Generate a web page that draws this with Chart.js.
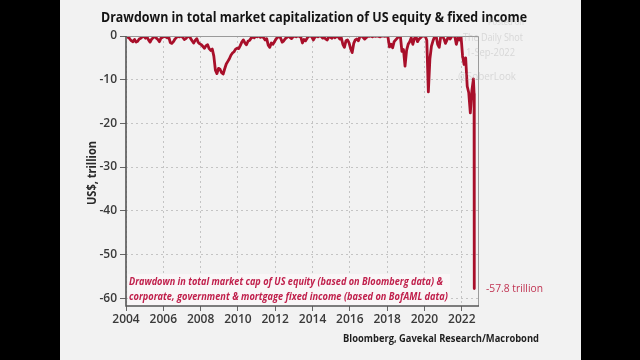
<!DOCTYPE html>
<html>
<head>
<meta charset="utf-8">
<script src="https://cdn.jsdelivr.net/npm/chart.js@4.4.1/dist/chart.umd.min.js"></script>
<style>
  html, body { margin: 0; padding: 0; background: #000; }
  #wrap { position: relative; width: 640px; height: 360px; background: #000; overflow: hidden; }
  #panel { position: absolute; left: 60px; top: 0; width: 521px; height: 360px; background: #f2f2f2; }
  #c { position: absolute; left: 0; top: 0; }
</style>
</head>
<body>
<div id="wrap">
  <div id="panel"></div>
  <canvas id="c" width="640" height="360"></canvas>
</div>
<script>
// ---- Data (US$ trillion drawdown, monthly from Jan 2004) ----
const startYear = 2004;
const drawdown2004 = [-0.3,-0.2,-0.7,-1.1,-1.3,-0.8,-1.4,-1.2,-0.7,-0.5,-0.2,-0.1];
const drawdown2005 = [-0.5,-0.2,-0.9,-1.4,-0.7,-0.4,-0.1,-0.5,-0.8,-1.3,-0.5,-0.3];
const drawdown2006 = [-0.1,-0.2,-0.4,-0.2,-1.5,-1.7,-1.3,-0.7,-0.3,-0.1,-0.2,0];
const drawdown2007 = [-0.3,-0.8,-0.6,-0.2,0,-0.5,-1.1,-1.6,-1.0,-0.6,-1.5,-1.8];
const drawdown2008 = [-2.0,-2.4,-2.8,-2.2,-2.0,-2.9,-3.3,-3.0,-4.6,-7.8,-8.6,-7.4];
const drawdown2009 = [-7.6,-8.4,-8.7,-7.5,-6.4,-5.8,-5.2,-4.4,-3.9,-3.6,-3.0,-2.8];
const drawdown2010 = [-2.9,-2.2,-1.4,-0.9,-1.6,-2.0,-1.2,-1.0,-0.5,-0.2,-0.4,0];
const drawdown2011 = [-0.2,0,-0.3,0,-0.4,-0.9,-0.6,-2.1,-2.6,-1.6,-1.9,-1.3];
const drawdown2012 = [-0.7,-0.3,0,-0.5,-1.4,-1.1,-0.6,-0.3,0,-0.3,-0.6,-0.2];
const drawdown2013 = [0,-0.2,0,-0.1,-0.3,-1.6,-0.8,-1.1,-0.5,-0.1,0,-0.2];
const drawdown2014 = [-0.9,-0.3,0,-0.2,0,-0.1,-0.5,-0.3,-0.7,-0.9,-0.1,-0.3];
const drawdown2015 = [-0.5,0,-0.4,-0.1,-0.2,-0.7,-0.4,-1.9,-2.6,-1.1,-0.9,-1.6];
const drawdown2016 = [-2.9,-3.8,-1.7,-0.9,-0.7,-1.1,-0.1,0,-0.3,-0.7,-0.4,0];
const drawdown2017 = [-0.1,0,-0.2,0,-0.1,0,-0.1,-0.2,0,0,-0.1,0];
const drawdown2018 = [-0.2,-2.5,-1.9,-2.7,-1.3,-0.9,-0.5,-0.1,0,-3.5,-3.1,-6.9];
const drawdown2019 = [-3.3,-1.9,-1.3,-0.4,-1.9,-0.6,0,-1.3,-0.7,-0.4,0,0];
const drawdown2020 = [0,-1.0,-12.8,-5.2,-2.3,-1.1,-0.2,0,-1.9,-2.6,0,0];
const drawdown2021 = [-0.6,-1.7,-0.9,0,-0.7,-0.1,0,0,-1.9,-0.5,-0.9,0];
const drawdown2022 = [-4.5,-6.5,-5.0,-11.5,-13.0,-17.6,-12.5,-9.8];
// final readings (1-Sep-2022)
const finalDates = [2022.66, 2022.67];
const finalValues = [-13.2, -57.8];

const xTicks = [2004,2006,2008,2010,2012,2014,2016,2018,2020,2022];
const yTicks = [0,-10,-20,-30,-40,-50,-60];
const xMin = 2004, xMax = 2022.87, yMin = -61.8, yMax = 0;

const titleText = "Drawdown in total market capitalization of US equity & fixed income";
const yTitle = "US$, trillion";
const noteLine1 = "Drawdown in total market cap of US equity (based on Bloomberg data) &";
const noteLine2 = "corporate, government & mortgage fixed income (based on BofAML data)";
const endLabel = "-57.8 trillion";
const sourceText = "Bloomberg, Gavekal Research/Macrobond";
const watermark = ["Posted on", "The Daily Shot", "1-Sep-2022", "@SoberLook"];

// ---- Build points ----
const allMonthly = [].concat(drawdown2004, drawdown2005, drawdown2006, drawdown2007, drawdown2008,
  drawdown2009, drawdown2010, drawdown2011, drawdown2012, drawdown2013, drawdown2014, drawdown2015,
  drawdown2016, drawdown2017, drawdown2018, drawdown2019, drawdown2020, drawdown2021, drawdown2022);
const points = allMonthly.map((v, i) => ({ x: startYear + i / 12 + 1 / 24, y: v }));
finalDates.forEach((d, i) => points.push({ x: d, y: finalValues[i] }));

function fitText(ctx, text, x, y, w, font, color) {
  ctx.save();
  ctx.font = font;
  ctx.fillStyle = color;
  ctx.textBaseline = 'middle';
  ctx.textAlign = 'left';
  const m = ctx.measureText(text).width;
  const s = w / m;
  ctx.translate(x, y);
  ctx.scale(s, 1);
  ctx.fillText(text, 0, 0);
  ctx.restore();
}

const decor = {
  id: 'decor',
  beforeDatasetsDraw(chart) {
    const { ctx, chartArea: a } = chart;
    ctx.save();
    ctx.fillStyle = 'rgba(250,246,247,0.9)';
    ctx.fillRect(a.left + 2, 274, 322, 31);
    ctx.restore();
  },
  afterDraw(chart) {
    const { ctx, chartArea: a } = chart;
    ctx.save();
    ctx.strokeStyle = '#9a9a9a';
    ctx.lineWidth = 1;
    ctx.beginPath();
    ctx.moveTo(a.left, a.top + 0.5); ctx.lineTo(a.right + 0.5, a.top + 0.5);
    ctx.lineTo(a.right + 0.5, a.bottom);
    ctx.stroke();
    ctx.strokeStyle = '#555';
    ctx.lineWidth = 1.6;
    ctx.beginPath();
    ctx.moveTo(a.left, a.top); ctx.lineTo(a.left, a.bottom); ctx.lineTo(a.right + 1, a.bottom);
    ctx.stroke();
    ctx.restore();

    fitText(ctx, titleText, 101, 18, 426, 'bold 15px "Open Sans"', '#141414');
    ctx.save();
    ctx.translate(93, 173);
    ctx.rotate(-Math.PI / 2);
    fitText(ctx, yTitle, -32, 0, 64, 'bold 12px "Open Sans"', '#2a2a2a');
    ctx.restore();
    fitText(ctx, noteLine1, 129, 282, 314, 'italic bold 11px "Open Sans"', '#c0204c');
    fitText(ctx, noteLine2, 129, 297, 319, 'italic bold 11px "Open Sans"', '#c0204c');
    fitText(ctx, endLabel, 486, 289, 57, '11px "Open Sans"', '#c03352');
    fitText(ctx, sourceText, 343, 339, 196, 'bold 11px "Open Sans"', '#1e1e1e');
    ctx.save();
    ctx.globalAlpha = 0.4;
    fitText(ctx, watermark[0], 488, 22, 36, '9px "Open Sans"', '#b0b0b0');
    fitText(ctx, watermark[1], 463, 38, 60, '11px "Open Sans"', '#b0b0b0');
    fitText(ctx, watermark[2], 466, 53, 49, '10px "Open Sans"', '#b0b0b0');
    fitText(ctx, watermark[3], 458, 77, 58, '11px "Open Sans"', '#b0b0b0');
    ctx.restore();
  }
};

new Chart(document.getElementById('c'), {
  type: 'line',
  data: {
    datasets: [{
      data: points,
      borderColor: '#a80f2a',
      borderWidth: 2.8,
      pointRadius: 0,
      tension: 0,
      borderJoinStyle: 'round',
      fill: false
    }]
  },
  options: {
    responsive: false,
    animation: false,
    parsing: false,
    layout: { padding: { left: 0, top: 36, right: 162, bottom: 0 } },
    plugins: { legend: { display: false }, tooltip: { enabled: false }, title: { display: false } },
    scales: {
      x: {
        type: 'linear',
        min: xMin, max: xMax,
        afterFit(scale) { scale.height = 54; },
        afterBuildTicks(scale) { scale.ticks = xTicks.map(v => ({ value: v })); },
        ticks: {
          padding: 1,
          maxRotation: 0,
          autoSkip: false,
          font: { family: '"Open Sans"', size: 12, weight: '600' },
          color: '#3a3a3a',
          callback: v => String(v)
        },
        grid: {
          color: '#c4c4c4',
          lineWidth: 1,
          tickLength: 5,
          tickColor: '#666',
          tickBorderDash: [],
          drawTicks: true
        },
        border: { display: false, dash: [2, 3] }
      },
      y: {
        type: 'linear',
        min: yMin, max: yMax,
        afterFit(scale) { scale.width = 126; },
        afterBuildTicks(scale) { scale.ticks = yTicks.map(v => ({ value: v })); },
        ticks: {
          padding: 3,
          font: { family: '"Open Sans"', size: 12, weight: '600' },
          color: '#3a3a3a',
          callback: v => String(v)
        },
        grid: {
          color: '#c4c4c4',
          lineWidth: 1,
          tickLength: 6,
          tickColor: '#666',
          tickBorderDash: []
        },
        border: { display: false, dash: [2, 3] }
      }
    }
  },
  plugins: [decor]
});
</script>
</body>
</html>
